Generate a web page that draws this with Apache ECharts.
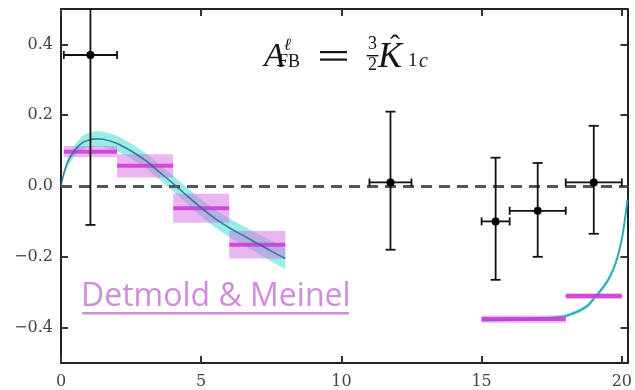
<!DOCTYPE html>
<html>
<head>
<meta charset="utf-8">
<script src="https://cdn.jsdelivr.net/npm/echarts@6/dist/echarts.min.js"></script>
<style>
  html, body { margin: 0; padding: 0; background: #fff; }
  #chart { width: 635px; height: 390px; }
</style>
</head>
<body>
<div id="chart"></div>
<script>
// Axis ticks
const xTickValues = [0, 5, 10, 15, 20];
const yTickValues = [-0.4, -0.2, 0.0, 0.2, 0.4];

// Measured points (LHCb-style bins): centre, bin edges, error range
const ptX   = [1.05, 11.75, 15.5, 17.0, 19.0];
const ptXlo = [0.1, 11.0, 15.0, 16.0, 18.0];
const ptXhi = [2.0, 12.5, 16.0, 18.0, 20.0];
const ptY   = [0.37, 0.01, -0.10, -0.07, 0.01];
const ptYlo = [-0.11, -0.18, -0.265, -0.20, -0.135];
const ptYhi = [0.85, 0.21, 0.08, 0.065, 0.17];

// Binned lattice predictions
const binLo  = [0.1, 2, 4, 6, 15, 18];
const binHi  = [2, 4, 6, 8, 18, 20];
const binVal = [0.097, 0.057, -0.063, -0.166, -0.376, -0.311];
const binErr = [0.016, 0.033, 0.041, 0.039, 0.010, 0.008];

// Continuous prediction, low q^2 region
const curve1X   = [0, 0.1, 0.25, 0.5, 0.75, 1.0, 1.25, 1.5, 2.0, 2.5, 3.0, 3.5, 4.0, 4.5, 5.0, 5.5, 6.0, 6.5, 7.0, 7.5, 8.0];
const curve1Y   = [0, 0.035, 0.07, 0.102, 0.122, 0.130, 0.133, 0.132, 0.120, 0.099, 0.073, 0.040, 0.007, -0.028, -0.062, -0.092, -0.118, -0.140, -0.162, -0.184, -0.205];
const curve1Err = [0, 0.008, 0.012, 0.016, 0.019, 0.021, 0.022, 0.022, 0.022, 0.021, 0.021, 0.021, 0.022, 0.023, 0.024, 0.025, 0.026, 0.027, 0.028, 0.029, 0.030];

// Continuous prediction, high q^2 region
const curve2X   = [15, 16, 17, 17.5, 18, 18.5, 18.8, 19.0, 19.25, 19.5, 19.7, 19.85, 20.0, 20.1, 20.2];
const curve2Y   = [-0.379, -0.378, -0.375, -0.372, -0.367, -0.352, -0.337, -0.318, -0.295, -0.267, -0.235, -0.200, -0.150, -0.100, -0.040];
const curve2Err = [0.005, 0.005, 0.005, 0.005, 0.005, 0.006, 0.006, 0.006, 0.007, 0.007, 0.008, 0.008, 0.009, 0.010, 0.010];

const zip = (a, b) => a.map((v, i) => [v, b[i]]);

function bandSeries(xs, ys, err) {
  return {
    type: 'custom',
    clip: true,
    silent: true,
    z: 1,
    data: [[xs[0], ys[0]]],
    renderItem(params, api) {
      const upper = xs.map((x, i) => api.coord([x, ys[i] + err[i]]));
      const lower = xs.map((x, i) => api.coord([x, ys[i] - err[i]])).reverse();
      return {
        type: 'polygon',
        shape: { points: upper.concat(lower) },
        style: { fill: 'rgba(70, 222, 212, 0.55)', stroke: 'none' }
      };
    }
  };
}

const fmtY = v => (v < 0 ? '\u2212' : '') + Math.abs(v).toFixed(1);
const labelFont = { fontFamily: 'DejaVu Serif', fontSize: 16, color: '#444' };

const chart = echarts.init(document.getElementById('chart'), null, { renderer: 'canvas' });

const axisLine = { show: true, onZero: false, lineStyle: { color: '#222', width: 2 } };
const tickStyle = { inside: true, length: 7, lineStyle: { color: '#333', width: 2 } };

const ink = '#151515';
const serif = '"Liberation Serif"';

chart.setOption({
  animation: false,
  backgroundColor: '#fff',
  grid: { left: 61, right: 4, top: 9, bottom: 26 },
  xAxis: [
    {
      type: 'value', min: 0, max: 20.2, position: 'bottom',
      axisLine, splitLine: { show: false },
      axisTick: Object.assign({ customValues: xTickValues }, tickStyle),
      axisLabel: Object.assign({ customValues: xTickValues, margin: 11, formatter: v => String(v) }, labelFont)
    },
    {
      type: 'value', min: 0, max: 20.2, position: 'top',
      axisLine, splitLine: { show: false },
      axisTick: Object.assign({ customValues: xTickValues }, tickStyle),
      axisLabel: { show: false }
    }
  ],
  yAxis: [
    {
      type: 'value', min: -0.5, max: 0.5, position: 'left',
      axisLine, splitLine: { show: false },
      axisTick: Object.assign({ customValues: yTickValues }, tickStyle),
      axisLabel: Object.assign({ customValues: yTickValues, margin: 8, formatter: fmtY }, labelFont)
    },
    {
      type: 'value', min: -0.5, max: 0.5, position: 'right',
      axisLine, splitLine: { show: false },
      axisTick: Object.assign({ customValues: yTickValues }, tickStyle),
      axisLabel: { show: false }
    }
  ],
  series: [
    bandSeries(curve1X, curve1Y, curve1Err),
    bandSeries(curve2X, curve2Y, curve2Err),
    {
      type: 'line', data: zip(curve2X, curve2Y), smooth: 0.3, showSymbol: false,
      z: 2, silent: true, clip: true,
      lineStyle: { color: 'rgba(40, 165, 180, 0.95)', width: 2 }
    },
    {
      // lattice bins: shaded uncertainty box with central value
      type: 'custom',
      clip: true,
      z: 3,
      data: binLo.map((lo, i) => [lo, binHi[i], binVal[i], binErr[i]]),
      renderItem(params, api) {
        const lo = api.value(0), hi = api.value(1), v = api.value(2), e = api.value(3);
        const tl = api.coord([lo, v + e]);
        const br = api.coord([hi, v - e]);
        const l = api.coord([lo, v]);
        const r = api.coord([hi, v]);
        return {
          type: 'group',
          children: [
            { type: 'rect', shape: { x: tl[0], y: tl[1], width: br[0] - tl[0], height: br[1] - tl[1] },
              style: { fill: 'rgba(214, 110, 226, 0.5)' } },
            { type: 'line', shape: { x1: l[0], y1: l[1], x2: r[0], y2: r[1] },
              style: { stroke: 'rgba(204, 56, 212, 0.85)', lineWidth: 4 } }
          ]
        };
      }
    },
    {
      type: 'line', data: zip(curve1X, curve1Y), smooth: 0.3, showSymbol: false,
      z: 4, silent: true,
      lineStyle: { color: 'rgba(30, 110, 140, 0.85)', width: 1.6 }
    },
    {
      // zero reference line
      type: 'line', data: [], z: 2,
      markLine: {
        silent: true, symbol: 'none', label: { show: false },
        lineStyle: { color: '#555', type: [11, 7], width: 3 },
        data: [{ yAxis: 0 }]
      }
    },
    {
      // measured points with error bars
      type: 'custom',
      clip: true,
      z: 5,
      data: ptX.map((x, i) => [x, ptY[i], ptXlo[i], ptXhi[i], ptYlo[i], ptYhi[i]]),
      renderItem(params, api) {
        const x = api.value(0), y = api.value(1);
        const c = api.coord([x, y]);
        const xl = api.coord([api.value(2), y]);
        const xh = api.coord([api.value(3), y]);
        const yl = api.coord([x, api.value(4)]);
        const yh = api.coord([x, api.value(5)]);
        const st = { stroke: '#111', lineWidth: 1.8 };
        const cap = 5, vcap = 4;
        return {
          type: 'group',
          children: [
            { type: 'line', shape: { x1: c[0], y1: yl[1], x2: c[0], y2: yh[1] }, style: st },
            { type: 'line', shape: { x1: xl[0], y1: c[1], x2: xh[0], y2: c[1] }, style: st },
            { type: 'line', shape: { x1: c[0] - cap, y1: yl[1], x2: c[0] + cap, y2: yl[1] }, style: st },
            { type: 'line', shape: { x1: c[0] - cap, y1: yh[1], x2: c[0] + cap, y2: yh[1] }, style: st },
            { type: 'line', shape: { x1: xl[0], y1: c[1] - vcap, x2: xl[0], y2: c[1] + vcap }, style: st },
            { type: 'line', shape: { x1: xh[0], y1: c[1] - vcap, x2: xh[0], y2: c[1] + vcap }, style: st },
            { type: 'circle', shape: { cx: c[0], cy: c[1], r: 4 }, style: { fill: '#000' } }
          ]
        };
      }
    }
  ],
  graphic: [
    // formula: A^l_FB = 3/2 K_1c (hatted)
    { type: 'text', left: 264, top: 40, style: { text: 'A', font: 'italic 34px ' + serif, fill: ink } },
    { type: 'text', left: 284, top: 37, style: { text: '\u2113', font: 'italic 17px "DejaVu Serif"', fill: ink } },
    { type: 'text', left: 278, top: 53, style: { text: 'FB', font: '18px ' + serif, fill: ink } },
    { type: 'rect', shape: { x: 320, y: 51, width: 27, height: 2.2 }, style: { fill: ink } },
    { type: 'rect', shape: { x: 320, y: 58.5, width: 27, height: 2.2 }, style: { fill: ink } },
    { type: 'text', left: 368, top: 35, style: { text: '3', font: '18px ' + serif, fill: ink } },
    { type: 'rect', shape: { x: 366.5, y: 55, width: 12, height: 1.4 }, style: { fill: ink } },
    { type: 'text', left: 368, top: 56, style: { text: '2', font: '18px ' + serif, fill: ink } },
    { type: 'text', left: 378, top: 40, style: { text: 'K', font: 'italic 36px ' + serif, fill: ink } },
    { type: 'text', left: 390, top: 32, style: { text: '\u02C6', font: '30px ' + serif, fill: ink } },
    { type: 'text', left: 408, top: 52, style: { text: '1', font: '19px ' + serif, fill: ink } },
    { type: 'text', left: 419, top: 52, style: { text: 'c', font: 'italic 20px ' + serif, fill: ink } },
    // source label with underline
    { type: 'text', left: 81, top: 281, style: { text: 'Detmold & Meinel', font: '32px "Open Sans"', fill: '#d08ddd' } },
    { type: 'rect', shape: { x: 82, y: 312, width: 267, height: 2.5 }, style: { fill: '#d08ddd' } }
  ]
});
</script>
</body>
</html>
